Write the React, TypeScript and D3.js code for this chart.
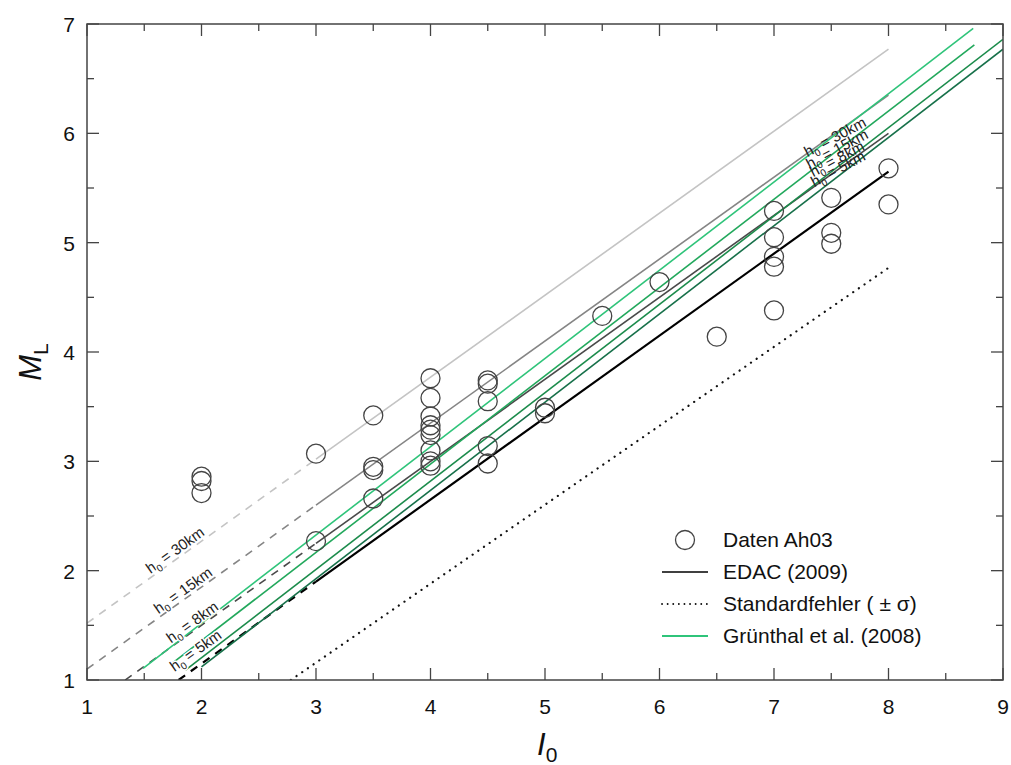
import React from "react";
import * as d3 from "d3";

// ---- data ----
const dataI0 = [2, 2, 2, 3, 3, 3.5, 3.5, 3.5, 3.5, 4, 4, 4, 4, 4, 4, 4, 4, 4, 4.5, 4.5, 4.5, 4.5, 4.5, 5, 5, 5.5, 6, 6.5, 7, 7, 7, 7, 7, 7.5, 7.5, 7.5, 8, 8];
const dataML = [2.86, 2.82, 2.71, 3.07, 2.27, 3.42, 2.95, 2.92, 2.66, 3.76, 3.58, 3.41, 3.33, 3.29, 3.24, 3.1, 3.0, 2.96, 3.74, 3.71, 3.55, 3.14, 2.98, 3.49, 3.44, 4.33, 4.64, 4.14, 5.29, 5.05, 4.87, 4.78, 4.38, 5.41, 5.09, 4.99, 5.68, 5.35];

// EDAC (2009) for depths h0: ML = a + b * I0 ; dashed below I0=3, solid 3..8
const edacDepths = ["30km", "15km", "8km", "5km"];
const edacIntercept = [0.77, 0.35, 0.0, -0.35];
const edacSlope = 0.75;
const edacStart = [1, 1, 1.333, 1.8];
const edacColors = ["#c4c4c4", "#858585", "#4a4a4a", "#000000"];
const edacWidths = [1.6, 1.6, 1.6, 2.2];
const edacLabelI0 = [1.81, 1.88, 1.96, 2.02];
const edacLabelDy = [-3, -3, -3, -9];

// Standard error (-sigma)
const sigmaI0 = [2.78, 8];
const sigmaML = [1.0, 4.77];

// Grünthal et al. (2008) for h0 = 30, 15, 8, 5 km
const gruenStartI0 = [1.49, 1.74, 1.86, 2.0];
const gruenStartML = [1.107, 1.15, 1.09, 1.12];
const gruenEndI0 = [8.74, 8.75, 9.0, 9.0];
const gruenEndML = [6.96, 6.81, 6.86, 6.77];
const gruenColors = ["#2fc47a", "#22a85c", "#1c8c4c", "#17704a"];
const gruenLabelPos = [[835, 137], [837, 149], [837, 159], [838, 169]];

const xTicks = [1, 2, 3, 4, 5, 6, 7, 8, 9];
const yTicks = [1, 2, 3, 4, 5, 6, 7];

const legendItems = ["Daten Ah03", "EDAC (2009)", "Standardfehler ( \u00B1 \u03C3)", "Grünthal et al. (2008)"];

const FONT = "Liberation Sans, Arial, Helvetica, sans-serif";

export default function App() {
  const W = 1011, H = 765;
  const x = d3.scaleLinear().domain([1, 9]).range([87, 1003]);
  const y = d3.scaleLinear().domain([1, 7]).range([680, 24]);
  const line = d3.line<[number, number]>().x(d => x(d[0])).y(d => y(d[1]));

  const angle = (Math.atan2(y(0) - y(edacSlope), x(1) - x(0)) * 180) / Math.PI;
  const rightAngle = 28;

  const xMinor = d3.range(1.5, 9, 1);
  const yMinor = d3.range(1.5, 7, 1);
  const L = 87, R = 1003, T = 24, B = 680;

  const label = (depth: string) => (
    <>
      <tspan>h</tspan>
      <tspan dy={4} fontSize={10}>0</tspan>
      <tspan dy={-4}>{` = ${depth}`}</tspan>
    </>
  );

  return (
    <svg width={W} height={H} style={{ position: "absolute", left: 0, top: 0, background: "#fff" }} fontFamily={FONT}>
      <rect x={0} y={0} width={W} height={H} fill="#fff" />
      <defs>
        <clipPath id="clip"><rect x={L} y={T} width={R - L} height={B - T} /></clipPath>
      </defs>

      <g clipPath="url(#clip)">
        {/* sigma dotted */}
        <path d={line([[sigmaI0[0], sigmaML[0]], [sigmaI0[1], sigmaML[1]]])!} stroke="#111" strokeWidth={2.2} strokeDasharray="0.1 6.8" strokeLinecap="round" fill="none" />
        {/* EDAC depth lines */}
        {edacDepths.map((d, i) => {
          const f = (v: number) => edacIntercept[i] + edacSlope * v;
          return (
            <g key={d}>
              <path d={line([[edacStart[i], f(edacStart[i])], [3, f(3)]])!} stroke={edacColors[i]} strokeWidth={edacWidths[i]} strokeDasharray="8 7" fill="none" />
              <path d={line([[3, f(3)], [8, f(8)]])!} stroke={edacColors[i]} strokeWidth={edacWidths[i]} fill="none" />
            </g>
          );
        })}
        {/* Grünthal lines */}
        {gruenColors.map((c, i) => (
          <path key={i} d={line([[gruenStartI0[i], gruenStartML[i]], [gruenEndI0[i], gruenEndML[i]]])!} stroke={c} strokeWidth={1.6} fill="none" />
        ))}
        {/* data circles */}
        {dataI0.map((v, i) => (
          <circle key={i} cx={x(v)} cy={y(dataML[i])} r={9.5} fill="none" stroke="#444" strokeWidth={1.3} />
        ))}
      </g>

      {/* left depth labels */}
      {edacDepths.map((d, i) => {
        const v = edacLabelI0[i];
        const px = x(v), py = y(edacIntercept[i] + edacSlope * v);
        return (
          <g key={d} transform={`translate(${px},${py}) rotate(${-angle})`}>
            <text textAnchor="middle" dy={edacLabelDy[i]} fontSize={15} fill="#222" stroke="#fff" strokeWidth={3} paintOrder="stroke">{label(d)}</text>
          </g>
        );
      })}
      {/* right depth labels */}
      {edacDepths.map((d, i) => (
        <g key={"r" + d} transform={`translate(${gruenLabelPos[i][0]},${gruenLabelPos[i][1]}) rotate(${-rightAngle})`}>
          <text textAnchor="middle" dy={5} fontSize={15} fill="#222">{label(d)}</text>
        </g>
      ))}

      {/* frame */}
      <rect x={L} y={T} width={R - L} height={B - T} fill="none" stroke="#444" strokeWidth={1.5} />
      {/* ticks */}
      {xTicks.map(t => (
        <g key={"xt" + t}>
          <line x1={x(t)} x2={x(t)} y1={B} y2={B - 12} stroke="#444" strokeWidth={1.3} />
          <line x1={x(t)} x2={x(t)} y1={T} y2={T + 12} stroke="#444" strokeWidth={1.3} />
          <text x={x(t)} y={714} textAnchor="middle" fontSize={21} fill="#111">{t}</text>
        </g>
      ))}
      {xMinor.map(t => (
        <g key={"xm" + t}>
          <line x1={x(t)} x2={x(t)} y1={B} y2={B - 7} stroke="#444" strokeWidth={1.3} />
          <line x1={x(t)} x2={x(t)} y1={T} y2={T + 7} stroke="#444" strokeWidth={1.3} />
        </g>
      ))}
      {yTicks.map(t => (
        <g key={"yt" + t}>
          <line x1={L} x2={L + 12} y1={y(t)} y2={y(t)} stroke="#444" strokeWidth={1.3} />
          <line x1={R} x2={R - 12} y1={y(t)} y2={y(t)} stroke="#444" strokeWidth={1.3} />
          <text x={75} y={y(t) + 8} textAnchor="end" fontSize={21} fill="#111">{t}</text>
        </g>
      ))}
      {yMinor.map(t => (
        <g key={"ym" + t}>
          <line x1={L} x2={L + 7} y1={y(t)} y2={y(t)} stroke="#444" strokeWidth={1.3} />
          <line x1={R} x2={R - 7} y1={y(t)} y2={y(t)} stroke="#444" strokeWidth={1.3} />
        </g>
      ))}

      {/* axis titles */}
      <text x={537} y={755} fontSize={31} fill="#111">
        <tspan fontStyle="italic">I</tspan>
        <tspan dy={7} fontSize={21}>0</tspan>
      </text>
      <g transform="translate(41,362) rotate(-90)">
        <text x={0} y={0} fontSize={31} fill="#111" textAnchor="middle">
          <tspan fontStyle="italic">M</tspan>
          <tspan dy={7} fontSize={21}>L</tspan>
        </text>
      </g>

      {/* legend */}
      <g fontSize={21} fill="#111">
        <circle cx={685} cy={540} r={9.5} fill="none" stroke="#444" strokeWidth={1.3} />
        <text x={723} y={547}>{legendItems[0]}</text>
        <line x1={662} x2={708} y1={572} y2={572} stroke="#000" strokeWidth={1.6} />
        <text x={723} y={579}>{legendItems[1]}</text>
        <line x1={662} x2={708} y1={604} y2={604} stroke="#111" strokeWidth={1.8} strokeDasharray="0.1 5.5" strokeLinecap="round" />
        <text x={723} y={611}>{legendItems[2]}</text>
        <line x1={662} x2={708} y1={636} y2={636} stroke="#2fc47a" strokeWidth={1.8} />
        <text x={723} y={643}>{legendItems[3]}</text>
      </g>
    </svg>
  );
}
